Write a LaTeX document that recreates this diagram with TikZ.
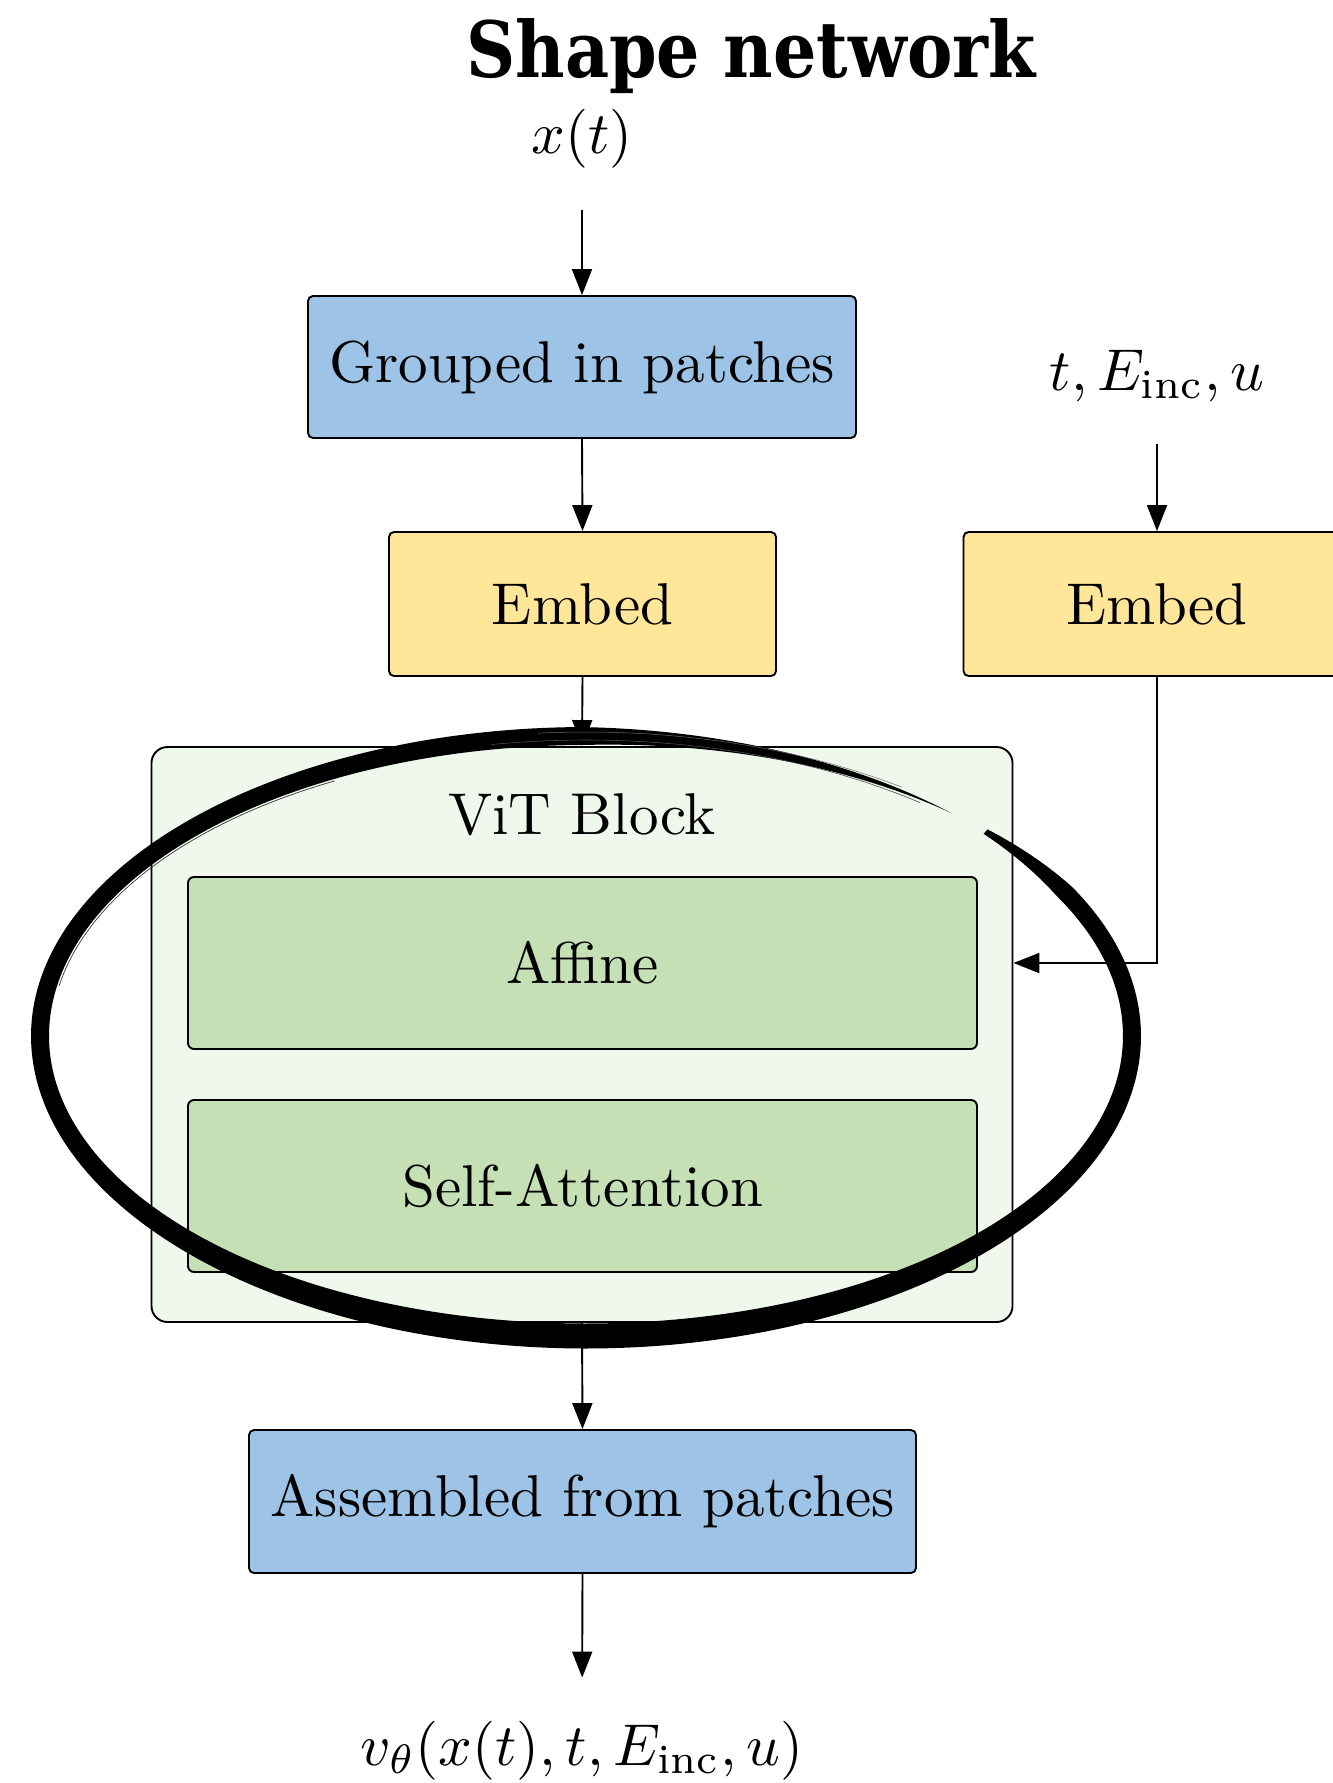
\documentclass[tikz,border=0pt]{standalone}
\usepackage{fontspec}
\usepackage{graphicx}
\usetikzlibrary{arrows.meta}
\newfontfamily\titlefont{DejaVu Serif}

\definecolor{patchblue}{RGB}{157,195,230}
\definecolor{embedyellow}{RGB}{255,230,153}
\definecolor{blockgreen}{RGB}{240,247,236}
\definecolor{layergreen}{RGB}{197,224,180}

% labels are set at 10pt and enlarged as a whole
\newcommand{\lbl}[1]{\scalebox{5.9}{#1}}

\begin{document}
\begin{tikzpicture}[x=1pt,y=-1pt,
  box/.style={draw=black, line width=1.9pt, rounded corners=5pt, inner sep=0pt},
  flow/.style={line width=1.9pt, -{Triangle[width=20pt,length=26pt]}},
  % brush width: tapered ends, heavier along the bottom
  declare function={
    ang(\u)=43-355*\u;
    bw(\u)=(18+7*max(0,-sin(ang(\u)))^2)*min(1,(\u+0.02)/0.06,(1-\u)/0.12);
  }
]
\useasboundingbox (0,0) rectangle (1333,1783);
\clip (0,0) rectangle (1333,1783);

% title
\node[anchor=base, inner sep=0pt] (title) at (751,77)
  {\resizebox{569pt}{59pt}{\titlefont\bfseries Shape network}};

% inputs
\node[anchor=base, inner sep=0pt] (xt) at (582,153) {\lbl{$x(t)$}};
\node[anchor=base, inner sep=0pt] (cond) at (1157,390) {\lbl{$t, E_{\mathrm{inc}}, u$}};

% patch grouping and embeddings
\node[box, fill=patchblue, minimum width=548pt, minimum height=142pt]
  (grp) at (582,367) {\lbl{Grouped in patches}};
\node[box, fill=embedyellow, minimum width=387pt, minimum height=144pt]
  (embL) at (582.5,604) {\lbl{Embed}};
\node[box, fill=embedyellow, minimum width=387pt, minimum height=144pt]
  (embR) at (1157,604) {\lbl{Embed}};

% ViT block with its two layers
\node[box, fill=blockgreen, rounded corners=16pt, minimum width=861pt, minimum height=575pt]
  (vit) at (582,1034.5) {};
\node[anchor=base, inner sep=0pt] (vitlbl) at (582,834) {\lbl{ViT Block}};
\node[box, fill=layergreen, rounded corners=6pt, minimum width=789pt, minimum height=172pt]
  (aff) at (582.5,963) {\lbl{Affine}};
\node[box, fill=layergreen, rounded corners=6pt, minimum width=789pt, minimum height=172pt]
  (att) at (582.5,1186) {\lbl{Self-Attention}};

% output
\node[box, fill=patchblue, minimum width=667pt, minimum height=143pt]
  (asm) at (582.5,1501.5) {\lbl{Assembled from patches}};
\node[anchor=base, inner sep=0pt] (out) at (582,1765) {\lbl{$v_\theta(x(t), t, E_{\mathrm{inc}}, u)$}};

% connectors
\draw[flow, shorten <=42pt] (xt.south) -- (grp.north);
\draw[flow] (grp.south) -- (embL.north);
\draw[flow, shorten <=42pt] (cond.south) -- (embR.north);
\draw[flow] (embL.south) -- (vit.north);
\draw[flow] (embR.south) |- (vit.east |- aff.east);
\draw[flow] (vit.south) -- (asm.north);
\draw[flow, shorten >=43pt] (asm.south) -- (out.north);

% hand-drawn brush ellipse around the ViT block
\fill[black]
  plot[domain=0:1, samples=361]
    ({586+(546+bw(\x)/2)*cos(ang(\x))}, {1036-(300+bw(\x)/2)*sin(ang(\x))})
  -- plot[domain=1:0, samples=361]
    ({586+(546-bw(\x)/2)*cos(ang(\x))}, {1036-(300-bw(\x)/2)*sin(ang(\x))})
  -- cycle;
% loose bristle strands along the top
\draw[line width=0.7pt, black!80]
  plot[domain=170:118, samples=60] ({586+535*cos(\x)}, {1036-289*sin(\x)});
\draw[line width=0.6pt, black!70]
  plot[domain=100:52, samples=60] ({586+543*cos(\x)}, {1036-296*sin(\x)});
\draw[line width=0.5pt, black!60]
  plot[domain=95:55, samples=60] ({586+550*cos(\x)}, {1036-304*sin(\x)});
\end{tikzpicture}
\end{document}
